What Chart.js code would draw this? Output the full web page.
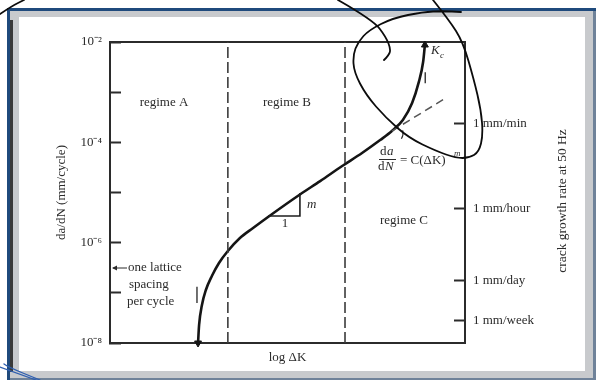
<!DOCTYPE html>
<html>
<head>
<meta charset="utf-8">
<script src="https://cdn.jsdelivr.net/npm/chart.js@4.4.1/dist/chart.umd.min.js"></script>
<style>
  html, body { margin: 0; padding: 0; background: #fff; }
  canvas { display: block; }
</style>
</head>
<body>
<canvas id="fatigue" width="596" height="380"></canvas>
<script>
// Fatigue crack growth curve: da/dN against log ΔK (arbitrary log ΔK units, 0–10)
const logDK = [2.48, 2.51, 2.59, 2.70, 2.87, 3.07, 3.32, 3.66, 4.03, 4.51, 5.35,
               5.92, 6.54, 7.10, 7.61, 7.94, 8.25, 8.51, 8.70, 8.82, 8.87];
const growthRate = [1.0e-8, 2.29e-8, 5.73e-8, 1.14e-7, 2.17e-7, 3.94e-7, 6.83e-7, 1.24e-6, 1.96e-6, 3.48e-6, 9.12e-6,
                    1.69e-5, 3.37e-5, 6.13e-5, 1.11e-4, 1.68e-4, 2.79e-4, 6.08e-4, 1.60e-3, 3.99e-3, 8.71e-3];

// Paris-law straight-line extension
const parisLogDK = [7.94, 9.46];
const parisRate = [1.68e-4, 7.65e-4];

// Regime boundaries (log ΔK)
const regimeBounds = [3.32, 6.62];

// Slope triangle (1 : m)
const slopeLogDK = [4.45, 5.35, 5.35];
const slopeRate = [3.4e-6, 3.4e-6, 9.8e-6];

// Short asymptote marks: threshold ΔK and K_c
const thresholdLogDK = [2.45, 2.45];
const thresholdRate = [6.3e-8, 1.32e-7];
const kcLogDK = [8.88, 8.88];
const kcRate = [1.5e-3, 2.5e-3];

// Left axis ticks (mm/cycle)
const rateTicks = [1e-8, 1e-7, 1e-6, 1e-5, 1e-4, 1e-3, 1e-2];
const rateTickLabels = ['10⁻⁸', '', '10⁻⁶', '', '10⁻⁴', '', '10⁻²'];

// Right axis ticks: crack growth rate at 50 Hz
const timeTicks = [2.75e-8, 1.74e-7, 4.7e-6, 2.37e-4];
const timeTickLabels = ['1 mm/week', '1 mm/day', '1 mm/hour', '1 mm/min'];

const SERIF = '"Liberation Serif", "Times New Roman", serif';
const INK = '#2b2b2b';

const pts = (xs, ys) => xs.map((x, i) => ({ x, y: ys[i] }));
const labelFor = (ticks, labels, v) => {
  const i = ticks.findIndex(t => Math.abs(Math.log10(t) - Math.log10(v)) < 1e-6);
  return i < 0 ? '' : labels[i];
};

function smoothStroke(ctx, p) {
  ctx.beginPath();
  ctx.moveTo(p[0][0], p[0][1]);
  for (let i = 1; i < p.length - 1; i++) {
    const mx = (p[i][0] + p[i + 1][0]) / 2, my = (p[i][1] + p[i + 1][1]) / 2;
    ctx.quadraticCurveTo(p[i][0], p[i][1], mx, my);
  }
  const l = p[p.length - 1];
  ctx.lineTo(l[0], l[1]);
  ctx.stroke();
}

function text(ctx, s, x, y, font, align) {
  ctx.font = font;
  ctx.textAlign = align || 'left';
  ctx.textBaseline = 'middle';
  ctx.fillText(s, x, y);
}

const decor = {
  id: 'decor',
  beforeDraw(chart) {
    const ctx = chart.ctx;
    ctx.save();
    ctx.fillStyle = '#ffffff';
    ctx.fillRect(0, 0, 596, 380);
    // window frame
    ctx.fillStyle = '#c8cacd';
    ctx.fillRect(10, 10, 586, 7);
    ctx.fillRect(10, 10, 9, 370);
    ctx.fillRect(585, 10, 11, 370);
    ctx.fillRect(10, 371, 586, 9);
    ctx.fillStyle = '#3a3a3a';
    ctx.fillRect(10, 20, 3, 352);
    ctx.fillStyle = '#1f4a7c';
    ctx.fillRect(7, 8, 589, 3);
    ctx.fillRect(7, 8, 3, 372);
    ctx.fillStyle = '#6f8299';
    ctx.fillRect(593, 11, 3, 369);
    ctx.fillRect(10, 378, 586, 2);
    ctx.restore();
  },
  afterDatasetsDraw(chart) {
    const ctx = chart.ctx;
    ctx.save();
    ctx.fillStyle = INK;
    ctx.strokeStyle = INK;
    const f = '13px ' + SERIF, fi = 'italic 13px ' + SERIF;

    text(ctx, 'regime A', 164, 103, f, 'center');
    text(ctx, 'regime B', 287, 103, f, 'center');
    text(ctx, 'regime C', 404, 221, f, 'center');

    // slope triangle labels
    text(ctx, '1', 285, 224, f, 'center');
    text(ctx, 'm', 307, 205, fi, 'left');

    // K_c
    text(ctx, 'K', 431, 51, fi, 'left');
    text(ctx, 'c', 440, 56, 'italic 9px ' + SERIF, 'left');

    // da/dN = C(ΔK)^m
    text(ctx, 'd', 380, 152, f, 'left');
    text(ctx, 'a', 387, 152, fi, 'left');
    ctx.lineWidth = 1;
    ctx.beginPath(); ctx.moveTo(379, 159.5); ctx.lineTo(396, 159.5); ctx.stroke();
    text(ctx, 'd', 378, 167, f, 'left');
    text(ctx, 'N', 385, 167, fi, 'left');
    text(ctx, '= C(ΔK)', 400, 161, f, 'left');
    text(ctx, 'm', 454, 154, 'italic 9px ' + SERIF, 'left');

    // small deviation mark
    ctx.lineWidth = 1.2;
    ctx.beginPath(); ctx.arc(392, 133, 11, -0.25, 0.55); ctx.stroke();

    // one lattice spacing per cycle
    ctx.lineWidth = 1;
    ctx.beginPath(); ctx.moveTo(127, 268); ctx.lineTo(113, 268); ctx.stroke();
    ctx.beginPath(); ctx.moveTo(112, 268); ctx.lineTo(117, 265.5); ctx.lineTo(117, 270.5); ctx.closePath(); ctx.fill();
    text(ctx, 'one lattice', 128, 268, f, 'left');
    text(ctx, 'spacing', 129, 285, f, 'left');
    text(ctx, 'per cycle', 127, 302, f, 'left');

    // right-hand axis title
    ctx.save();
    ctx.translate(562, 201);
    ctx.rotate(-Math.PI / 2);
    text(ctx, 'crack growth rate at 50 Hz', 0, 0, '13.5px ' + SERIF, 'center');
    ctx.restore();
    ctx.restore();
  },
  afterDraw(chart) {
    const ctx = chart.ctx;
    ctx.save();
    ctx.strokeStyle = '#0c0c0c';
    ctx.lineWidth = 1.8;
    ctx.lineCap = 'round';
    ctx.lineJoin = 'round';
    smoothStroke(ctx, [[338, 0], [373, 20], [386, 37], [391, 50], [388, 56], [384, 60]]);
    smoothStroke(ctx, [[433, 0], [449, 20], [463, 42], [474, 80], [481, 110], [483, 135], [479, 152],
      [469, 158], [456, 158], [436, 151], [409, 138], [386, 118], [366, 95], [354, 72], [353, 55],
      [358, 42], [369, 30], [393, 18], [423, 12], [443, 11], [461, 12]]);
    smoothStroke(ctx, [[0, 14], [12, 6], [24, 0]]);
    ctx.strokeStyle = '#2f5fb0';
    ctx.lineWidth = 1.3;
    smoothStroke(ctx, [[0, 367], [36, 380]]);
    smoothStroke(ctx, [[4, 364], [8, 367], [40, 380]]);
    ctx.restore();
  }
};

const dashed = (xs, ys, dash, color, width) => ({
  data: pts(xs, ys), borderColor: color, borderWidth: width, borderDash: dash,
  pointRadius: 0, tension: 0, fill: false
});

const datasets = [
  ...regimeBounds.map(b => dashed([b, b], [1e-8, 1e-2], [11, 4], '#3c3c3c', 1.6)),
  dashed(parisLogDK, parisRate, [8, 5], '#555555', 1.5),
  dashed(thresholdLogDK, thresholdRate, [], '#333333', 1.4),
  dashed(kcLogDK, kcRate, [], '#333333', 1.4),
  dashed(slopeLogDK, slopeRate, [], '#1e1e1e', 1.6),
  {
    data: pts(logDK, growthRate),
    borderColor: '#151515',
    borderWidth: 2.6,
    cubicInterpolationMode: 'monotone',
    fill: false,
    clip: false,
    pointStyle: 'triangle',
    pointRadius: ctx => (ctx.dataIndex === 0 || ctx.dataIndex === logDK.length - 1) ? 4 : 0,
    pointRotation: ctx => ctx.dataIndex === 0 ? 180 : 0,
    pointBackgroundColor: '#151515',
    pointBorderColor: '#151515',
    pointBorderWidth: 1
  }
];

const axisFont = { family: SERIF, size: 13 };

new Chart(document.getElementById('fatigue'), {
  type: 'line',
  data: { datasets },
  plugins: [decor],
  options: {
    responsive: false,
    animation: false,
    devicePixelRatio: 1,
    layout: { padding: { top: 42, left: 0, right: 0, bottom: 0 } },
    plugins: { legend: { display: false }, tooltip: { enabled: false } },
    scales: {
      x: {
        type: 'linear', min: 0, max: 10, position: 'bottom',
        ticks: { display: false },
        grid: { display: false },
        border: { display: true, color: INK, width: 2 },
        title: { display: true, text: 'log ΔK', color: INK, font: axisFont, padding: { top: 0, bottom: 15 } },
        afterFit(s) { s.height = 37; }
      },
      xTop: {
        type: 'linear', min: 0, max: 10, position: 'top',
        ticks: { display: false },
        grid: { display: false },
        border: { display: true, color: INK, width: 2 },
        afterFit(s) { s.height = 0; }
      },
      y: {
        type: 'logarithmic', min: 1e-8, max: 1e-2, position: 'left',
        afterBuildTicks(s) { s.ticks = rateTicks.map(v => ({ value: v })); },
        ticks: {
          autoSkip: false, padding: 19, color: INK, font: axisFont,
          callback: v => labelFor(rateTicks, rateTickLabels, v)
        },
        grid: { drawOnChartArea: false, drawTicks: true, tickLength: -11, tickColor: INK, tickWidth: 2 },
        border: { display: true, color: INK, width: 2 },
        title: { display: true, text: 'da/dN (mm/cycle)', color: INK, font: axisFont, padding: { top: 54 } },
        afterFit(s) { s.width = 110; }
      },
      rate: {
        type: 'logarithmic', min: 1e-8, max: 1e-2, position: 'right',
        afterBuildTicks(s) { s.ticks = timeTicks.map(v => ({ value: v })); },
        ticks: {
          autoSkip: false, padding: 19, color: INK, font: axisFont,
          callback: v => labelFor(timeTicks, timeTickLabels, v)
        },
        grid: { drawOnChartArea: false, drawTicks: true, tickLength: -11, tickColor: INK, tickWidth: 2 },
        border: { display: true, color: INK, width: 2 },
        afterFit(s) { s.width = 131; }
      }
    }
  }
});
</script>
</body>
</html>
